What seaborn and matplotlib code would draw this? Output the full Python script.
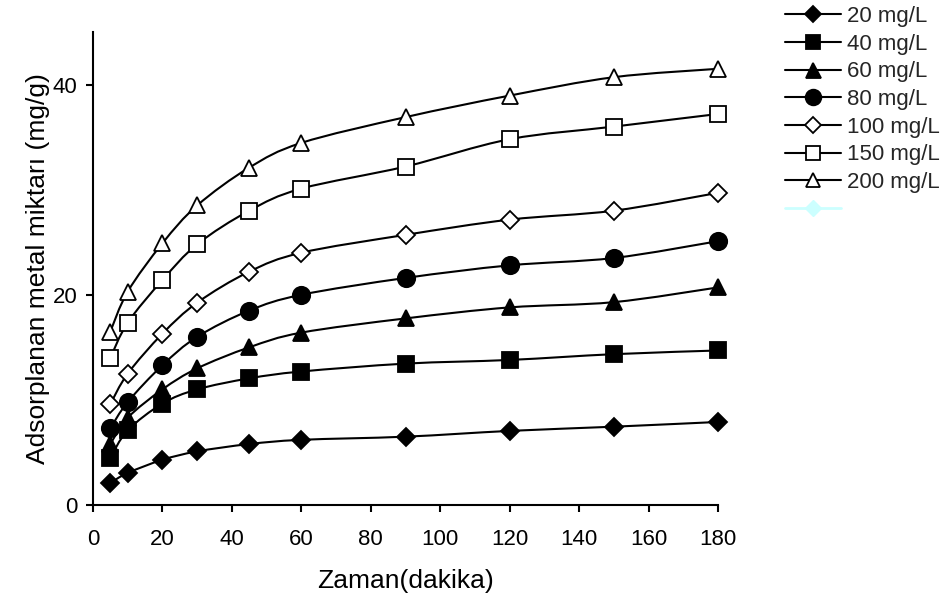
import numpy as np
import pandas as pd
import matplotlib
matplotlib.use("Agg")
import matplotlib.pyplot as plt
from matplotlib.path import Path
from matplotlib.patches import PathPatch
from matplotlib.lines import Line2D
import seaborn as sns

# ---- data ----
time_min = [5, 10, 20, 30, 45, 60, 90, 120, 150, 180]
c20 = [2.1, 3.05, 4.3, 5.1, 5.8, 6.2, 6.5, 7.05, 7.45, 7.9]
c40 = [4.5, 7.1, 9.65, 11.0, 12.05, 12.7, 13.45, 13.8, 14.35, 14.7]
c60 = [5.8, 8.3, 11.0, 13.0, 15.0, 16.4, 17.75, 18.8, 19.3, 20.7]
c80 = [7.3, 9.8, 13.3, 16.0, 18.5, 20.0, 21.6, 22.8, 23.5, 25.1]
c100 = [9.6, 12.5, 16.3, 19.25, 22.2, 24.0, 25.7, 27.15, 28.0, 29.7]
c150 = [14.0, 17.35, 21.4, 24.8, 28.0, 30.1, 32.2, 34.8, 36.0, 37.2]
c200 = [16.5, 20.3, 24.9, 28.5, 32.1, 34.45, 36.9, 38.95, 40.7, 41.5]
series_labels = ["20 mg/L", "40 mg/L", "60 mg/L", "80 mg/L", "100 mg/L", "150 mg/L", "200 mg/L"]
x_ticks = [0, 20, 40, 60, 80, 100, 120, 140, 160, 180]
y_ticks = [0, 20, 40]

series = [c20, c40, c60, c80, c100, c150, c200]
# marker, face colour, size
styles = [("D", "black", 9), ("s", "black", 11.5), ("^", "black", 12), ("o", "black", 12.5),
          ("D", "white", 9), ("s", "white", 11.5), ("^", "white", 11)]

sns.set_theme(style="ticks")
plt.rcParams["font.family"] = ["Liberation Sans", "DejaVu Sans"]

fig = plt.figure(figsize=(9.47, 6), dpi=100)
ax = fig.add_axes([93 / 947, 95 / 600, 625 / 947, 473 / 600])


def smooth_path(xs, ys):
    """Catmull-Rom style Bezier curve through the data points (Excel 'smoothed line')."""
    p = np.column_stack([xs, ys]).astype(float)
    n = len(p)
    verts = [p[0]]
    codes = [Path.MOVETO]
    for i in range(n - 1):
        p0 = p[i - 1] if i > 0 else p[i]
        p1 = p[i]
        p2 = p[i + 1]
        p3 = p[i + 2] if i + 2 < n else p[i + 1]
        c1 = p1 + (p2 - p0) / 6.0
        c2 = p2 - (p3 - p1) / 6.0
        verts += [c1, c2, p2]
        codes += [Path.CURVE4] * 3
    return Path(verts, codes)


handles = []
for label, ys, (m, fc, ms) in zip(series_labels, series, styles):
    ax.add_patch(PathPatch(smooth_path(time_min, ys), facecolor="none",
                           edgecolor="black", lw=1.5, zorder=2, clip_on=False))
    sns.lineplot(x=time_min, y=ys, ax=ax, marker=m, markersize=ms,
                 markerfacecolor=fc, markeredgecolor="black", markeredgewidth=1.3,
                 linestyle="", color="black", zorder=3, clip_on=False, legend=False)
    handles.append(Line2D([], [], color="black", lw=1.5, marker=m, markersize=ms * 0.9,
                          markerfacecolor=fc, markeredgecolor="black", markeredgewidth=1.3))

handles.append(Line2D([], [], color="#ccffff", lw=2, marker="D", markersize=8.5,
                      markerfacecolor="#ccffff", markeredgecolor="#ccffff"))
labels = series_labels + [""]

ax.set_xlim(0, 180)
ax.set_ylim(0, 45)
ax.set_xticks(x_ticks)
ax.set_yticks(y_ticks)
ax.tick_params(axis="both", direction="out", length=5, width=1.5, color="black",
               labelsize=16, labelcolor="black")
ax.tick_params(axis="x", pad=12)
ax.tick_params(axis="y", pad=6)
sns.despine(ax=ax)
for s in ("left", "bottom"):
    ax.spines[s].set_linewidth(1.5)
    ax.spines[s].set_color("black")

ax.set_xlabel("Zaman(dakika)", fontsize=19, labelpad=14, color="black")
ax.set_ylabel("Adsorplanan metal miktarı (mg/g)", fontsize=19, labelpad=2, color="black")

leg = ax.legend(handles, labels, loc="upper left", bbox_to_anchor=(785 / 947, 0.99),
                bbox_transform=fig.transFigure, frameon=False, fontsize=16,
                handlelength=2.5, handletextpad=0.27, labelspacing=0.3,
                borderpad=0, borderaxespad=0)

fig.savefig("out.png", dpi=100)
